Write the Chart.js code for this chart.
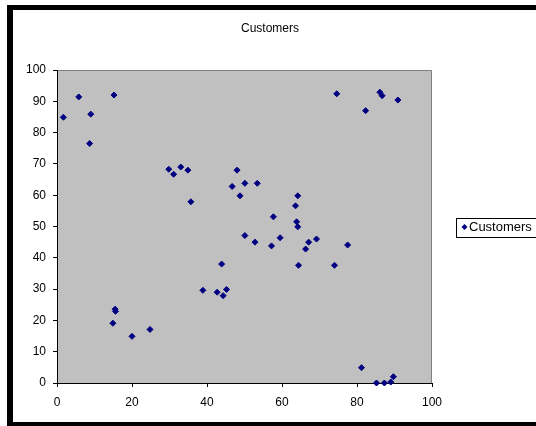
<!DOCTYPE html>
<html>
<head>
    <meta charset="UTF-8">
    <title>Customers</title>
    <script src="https://cdn.jsdelivr.net/npm/chart.js"></script>
    <style>
        html, body { margin: 0; padding: 0; background: #fff; }
        #wrap { width: 536px; height: 426px; }
    </style>
</head>
<body>
    <div id="wrap"><canvas id="chart" width="536" height="426"></canvas></div>

    <script>
        // values
        const seriesName = 'Customers';
        const customerX = [1.7, 5.8, 9.0, 8.7, 15.2, 29.8, 31.1, 33.0, 34.9, 35.7,
                           46.7, 48.0, 48.8, 74.6, 86.1, 86.7, 90.9, 82.3, 50.1, 53.4,
                           64.2, 63.6, 57.7, 63.9, 64.2, 50.1, 52.8, 57.2, 59.5, 67.1,
                           66.3, 69.2, 77.5, 64.4, 74.0, 81.2, 85.2, 87.3, 89.0, 89.7,
                           43.9, 38.9, 42.7, 44.3, 45.2, 15.5, 15.6, 14.9, 20.0, 24.8];
        const customerY = [84.9, 91.4, 85.9, 76.5, 92.0, 68.3, 66.7, 69.0, 68.0, 57.9,
                           62.8, 68.0, 59.8, 92.4, 92.9, 91.8, 90.4, 87.0, 63.8, 63.8,
                           59.8, 56.6, 53.1, 51.5, 49.9, 47.1, 45.0, 43.8, 46.4, 45.0,
                           42.8, 46.0, 44.1, 37.6, 37.6, 4.9, 0.0, 0.0, 0.3, 2.0,
                           38.0, 29.6, 29.0, 27.9, 29.9, 23.6, 22.9, 19.1, 14.9, 17.1];
        const xTicks = [0, 20, 40, 60, 80, 100];
        const yTicks = [0, 10, 20, 30, 40, 50, 60, 70, 80, 90, 100];

        const points = customerX.map((x, i) => ({ x: x, y: customerY[i] }));
        const navy = '#000080';
        const font = 'Liberation Sans, Arial, sans-serif';

        // frame, plot background, title and legend box like the old Excel look
        const excelLook = {
            id: 'excelLook',
            beforeDraw(chart) {
                const ctx = chart.ctx;
                const a = chart.chartArea;
                ctx.save();
                ctx.fillStyle = '#fff';
                ctx.fillRect(0, 0, chart.width, chart.height);
                ctx.fillStyle = '#000';
                ctx.fillRect(7, 5, chart.width - 7, 5);   // top
                ctx.fillRect(7, 5, 6, chart.height - 5);  // left
                ctx.fillRect(7, 422, chart.width - 7, 4); // bottom
                ctx.fillStyle = '#c0c0c0';
                ctx.fillRect(a.left, a.top, a.right - a.left, a.bottom - a.top);
                ctx.strokeStyle = '#808080';
                ctx.lineWidth = 1;
                ctx.beginPath();
                ctx.moveTo(a.left, a.top + 0.5);
                ctx.lineTo(a.right - 0.5, a.top + 0.5);
                ctx.lineTo(a.right - 0.5, a.bottom);
                ctx.stroke();
                ctx.restore();
            },
            afterDraw(chart) {
                const ctx = chart.ctx;
                ctx.save();
                ctx.fillStyle = '#000';
                ctx.font = '12px ' + font;
                ctx.textAlign = 'center';
                ctx.textBaseline = 'middle';
                ctx.fillText(seriesName, 270, 29);

                // legend
                ctx.fillStyle = '#fff';
                ctx.fillRect(456, 218, 90, 19);
                ctx.strokeStyle = '#000';
                ctx.lineWidth = 1;
                ctx.strokeRect(456.5, 218.5, 90, 19);
                ctx.fillStyle = navy;
                ctx.beginPath();
                ctx.moveTo(464.5, 224);
                ctx.lineTo(467.5, 227);
                ctx.lineTo(464.5, 230);
                ctx.lineTo(461.5, 227);
                ctx.closePath();
                ctx.fill();
                ctx.fillStyle = '#000';
                ctx.font = '13px ' + font;
                ctx.textAlign = 'left';
                ctx.fillText(chart.data.datasets[0].label, 469, 227.5);
                ctx.restore();
            }
        };

        const ctx = document.getElementById('chart').getContext('2d');
        new Chart(ctx, {
            type: 'scatter',
            data: {
                datasets: [{
                    label: seriesName,
                    data: points,
                    pointStyle: 'rectRot',
                    pointRadius: 3,
                    pointHoverRadius: 3,
                    backgroundColor: navy,
                    borderColor: navy,
                    borderWidth: 1,
                    clip: false
                }]
            },
            options: {
                responsive: false,
                animation: false,
                layout: { padding: { left: 0, right: 104, top: 70, bottom: 0 } },
                plugins: {
                    legend: { display: false },
                    title: { display: false },
                    tooltip: { enabled: false }
                },
                scales: {
                    x: {
                        type: 'linear',
                        min: 0,
                        max: 100,
                        afterFit(scale) { scale.height = 43; },
                        afterBuildTicks(scale) { scale.ticks = xTicks.map(v => ({ value: v })); },
                        grid: { drawOnChartArea: false, drawTicks: true, tickLength: 4, color: '#000' },
                        border: { color: '#000', width: 1 },
                        ticks: { color: '#000', padding: 8, maxRotation: 0, font: { family: font, size: 12 } }
                    },
                    y: {
                        type: 'linear',
                        min: 0,
                        max: 100,
                        afterFit(scale) { scale.width = 57; },
                        afterBuildTicks(scale) { scale.ticks = yTicks.map(v => ({ value: v })); },
                        grid: { drawOnChartArea: false, drawTicks: true, tickLength: 4, color: '#000' },
                        border: { color: '#000', width: 1 },
                        ticks: { color: '#000', padding: 7, font: { family: font, size: 12 } }
                    }
                }
            },
            plugins: [excelLook]
        });
    </script>
</body>
</html>
